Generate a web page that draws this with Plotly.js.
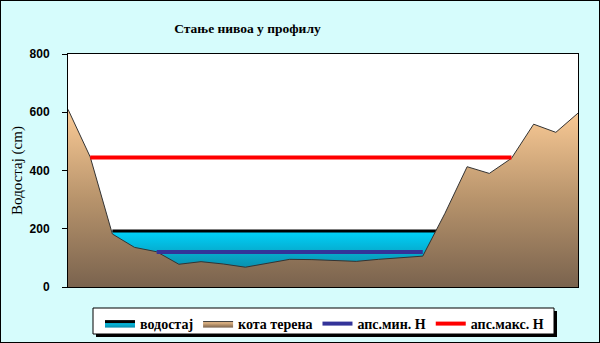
<!DOCTYPE html>
<html><head><meta charset="utf-8">
<script src="https://cdn.plot.ly/plotly-3.0.1.min.js"></script>
<style>
html,body{margin:0;padding:0;background:#d6fcfc;}
#wrap{position:relative;width:600px;height:343px;}
#chart{width:600px;height:343px;}
#frame{position:absolute;left:0;top:0;width:598px;height:341px;border:1px solid #000;pointer-events:none;}
</style>
</head><body>
<div id="wrap"><div id="chart"></div><div id="frame"></div></div>
<script>
// Data
const chartTitle = "Стање нивоа у профилу";
const yTitle = "Водостај (cm)";
const seriesNames = ["водостај", "кота терена", "апс.мин. Н", "апс.макс. Н"];
const terrainX = [0,1,2,3,4,5,6,7,8,9,10,11,12,13,14,15,16,17,18,19,20,21,22,23];
const terrainY = [610,447,182,136,121,78,87,79,68,81,95,94,92,88,95,100,106,253,413,390,442,559,531,597];
const waterX = [2,3,4,5,6,7,8,9,10,11,12,13,14,15,16,17];
const waterY = [192,192,192,192,192,192,192,192,192,192,192,192,192,192,192,192];
const minX = [4,16];
const minY = [120,120];
const maxX = [1,20];
const maxY = [445,445];
const yTicks = [0,200,400,600,800];

const serif = "Liberation Serif, Times New Roman, serif";
const sans = "Liberation Sans, Arial, sans-serif";

const traces = [
  {x: waterX, y: waterY, name: seriesNames[0], type: 'scatter', mode: 'lines',
   fill: 'tozeroy',
   fillgradient: {type: 'vertical', start: 60, stop: 192,
     colorscale: [[0, '#0a8caa'], [1, '#00d2fa']]},
   line: {color: '#000000', width: 3}},
  {x: terrainX, y: terrainY, name: seriesNames[1], type: 'scatter', mode: 'lines',
   fill: 'tozeroy',
   fillgradient: {type: 'vertical', start: 0, stop: 610,
     colorscale: [[0, '#7a634e'], [0.5, '#b8946c'], [1, '#fbcb96']]},
   line: {color: '#333333', width: 1}},
  {x: minX, y: minY, name: seriesNames[2], type: 'scatter', mode: 'lines',
   line: {color: '#333399', width: 4}},
  {x: maxX, y: maxY, name: seriesNames[3], type: 'scatter', mode: 'lines',
   line: {color: '#ff0000', width: 4}}
];

// plot area pixels: x 68..578, y 54..287
const L = 68, R = 578, T = 54, B = 287;
function px(x){ return (x - L) / (R - L); }
function py(y){ return (B - y) / (B - T); }

const layout = {
  width: 600, height: 343,
  margin: {l: L, r: 600 - R, t: T, b: 343 - B, pad: 0},
  paper_bgcolor: '#d6fcfc',
  plot_bgcolor: '#ffffff',
  showlegend: true,
  title: {text: chartTitle, font: {family: serif, size: 13.5, color: '#000', weight: 'bold'},
          xref: 'container', x: 247.5/600, xanchor: 'center',
          yref: 'container', y: 1 - 28/343, yanchor: 'middle'},
  xaxis: {range: [0, 23], showticklabels: false, ticks: '', showgrid: false, zeroline: false,
          showline: true, linecolor: '#000', linewidth: 1, mirror: true, fixedrange: true},
  yaxis: {range: [0, 800], tickvals: yTicks, ticktext: yTicks.map(String),
          ticks: 'outside', ticklen: 5, tickcolor: '#000', tickwidth: 1,
          ticklabelstandoff: 10,
          tickfont: {family: sans, size: 12, color: '#000', weight: 'bold'},
          showgrid: false, zeroline: false, showline: true, linecolor: '#000', linewidth: 1, mirror: true,
          title: {text: yTitle, font: {family: serif, size: 15, color: '#000'}, standoff: 3},
          automargin: false},
  legend: {orientation: 'h', xref: 'container', yref: 'container',
           x: 100/600, xanchor: 'left', y: 1 - 308/343, yanchor: 'top',
           bgcolor: 'rgba(0,0,0,0)', borderwidth: 0,
           font: {family: serif, size: 14, color: '#000', weight: 'bold'},
           itemwidth: 30, tracegroupgap: 0},
  shapes: [
    {type: 'rect', xref: 'paper', yref: 'paper', layer: 'above',
     x0: px(96), x1: px(557), y0: py(337), y1: py(311),
     fillcolor: '#000', line: {width: 0}},
    {type: 'rect', xref: 'paper', yref: 'paper', layer: 'above',
     x0: px(93), x1: px(554), y0: py(334), y1: py(308),
     fillcolor: '#fff', line: {color: '#000', width: 1}}
  ]
};

Plotly.newPlot('chart', traces, layout, {displayModeBar: false, staticPlot: true});
</script>
</body></html>
